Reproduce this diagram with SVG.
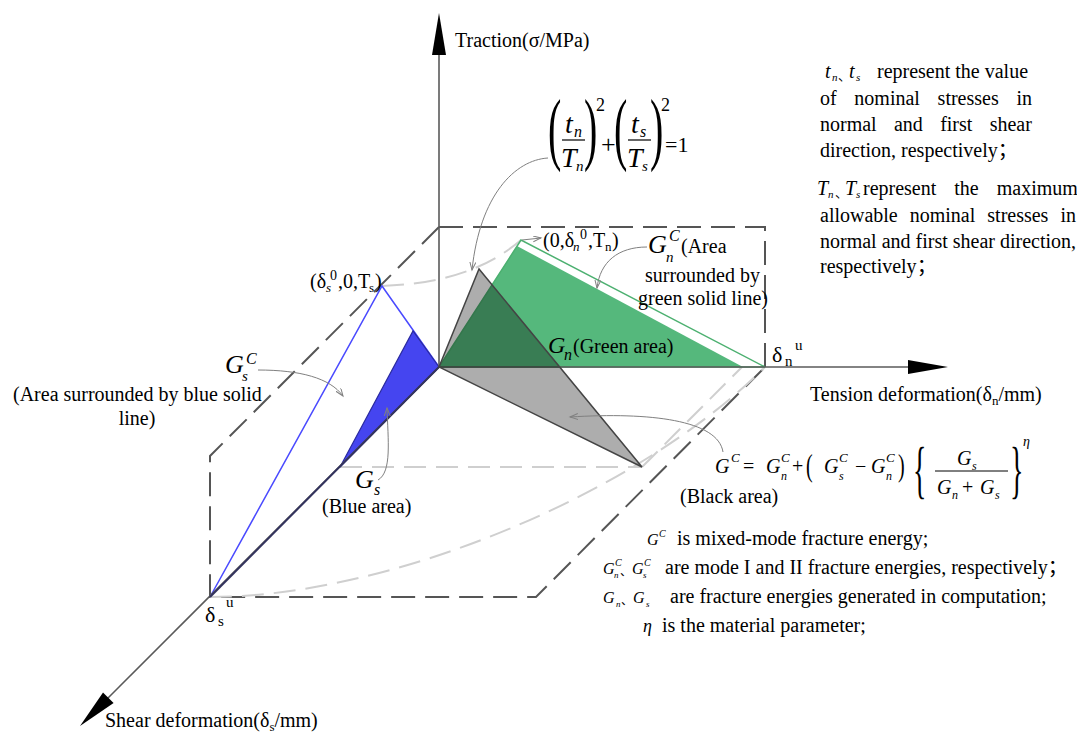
<svg xmlns="http://www.w3.org/2000/svg" width="1077" height="733" viewBox="0 0 1077 733" font-size="20">
<defs>
<style>
text{font-family:"Liberation Serif","Times New Roman",serif;fill:#000}
.it{font-style:italic}
.ax{stroke:#5a5a5a;stroke-width:1.6;fill:none}
.dk{stroke:#555;stroke-width:2;stroke-dasharray:24 10;fill:none}
.lt{stroke:#cfcfcf;stroke-width:2;stroke-dasharray:22 10;fill:none}
.ld{stroke:#808080;stroke-width:1;fill:none;marker-end:url(#oa)}
.cj{font-family:"Noto Sans CJK SC",sans-serif}
</style>
<marker id="oa" markerWidth="10" markerHeight="8" refX="8" refY="3" orient="auto" markerUnits="userSpaceOnUse"><path d="M0,0 L8,3 L0,6" fill="none" stroke="#808080" stroke-width="1"/></marker>
</defs>
<rect width="1077" height="733" fill="#fff"/>

<g id="box">
<path class="dk" d="M439,227 H765 V367"/>
<path class="dk" d="M439,227 L210,456 V597 H536 L765,367"/>
</g>

<g id="guide-curves">
<path class="lt" d="M382,286 C430,284 480,275 521,240"/>
<path class="lt" d="M210,597 C390,597 638,494 765,367"/>
<path class="lt" d="M340,467 H642"/>
<path class="lt" d="M642,467 L742,367"/>
</g>

<g id="green-region">
<polygon points="439,367 517,246 743,367" fill="#55b87c"/>
<polygon points="439,367 521,240 765,367" fill="none" stroke="#4cb070" stroke-width="1.5"/>
</g>

<g id="blue-region">
<polyline points="439,367 382,286 210,597" fill="none" stroke="#4a4aff" stroke-width="1.5"/>
<polygon points="439,367 413,331 340,467" fill="#4545f0" stroke="#2a2aa0" stroke-width="1.2"/>
</g>

<g id="axes">
<line class="ax" x1="439" y1="367" x2="439" y2="50"/>
<polygon points="439,13 432,55 446,55" fill="#000"/>
<line class="ax" x1="439" y1="367" x2="910" y2="367"/>
<polygon points="948,367 908,360 908,374" fill="#000"/>
<line class="ax" x1="439" y1="367" x2="106" y2="700"/>
<polygon points="80,726 103,692.4 113.6,703" fill="#000"/>
<line x1="439" y1="367" x2="210" y2="597" stroke="#33335e" stroke-width="2"/>
</g>

<g id="gray-region">
<polygon points="439,367 479,269 642,467" fill="#000" fill-opacity="0.32" stroke="#444" stroke-width="1.5"/>
</g>

<g id="connectors">
<path class="ld" d="M548,158 C515,160 480,195 472,270"/>
<path class="ld" d="M522,240 L541,238"/>
<path class="ld" d="M647,247 C618,247 600,262 597,288"/>
<path class="ld" d="M258,370 C300,370 330,378 343,396"/>
<path class="ld" d="M378,480 C392,472 388,440 387,408"/>
<path class="ld" d="M723,452 C718,420 650,412 570,417"/>
</g>

<g id="axis-labels">
<text x="455" y="47">Traction(σ/MPa)</text>
<text x="810" y="401">Tension deformation(δ<tspan font-size="13" dy="4">n</tspan><tspan dy="-4">/mm)</tspan></text>
<text x="105" y="727">Shear deformation(δ<tspan font-size="13" dy="4">s</tspan><tspan dy="-4">/mm)</tspan></text>
<text x="772" y="362" font-size="22">δ</text><text x="785" y="366" font-size="15">n</text><text x="795" y="350" font-size="15">u</text>
<text x="205" y="622" font-size="22">δ</text><text x="218" y="626" font-size="15">s</text><text x="226" y="607" font-size="15">u</text>
</g>

<g id="point-labels">
<text x="310" y="288">(δ</text><text x="326" y="292" class="it" font-size="13">s</text><text x="330" y="280" font-size="14">0</text><text x="338" y="288">,0,T</text><text x="369" y="292" font-size="13">s</text><text x="375" y="288">)</text>
<text x="543" y="247">(0,δ</text><text x="573" y="251" class="it" font-size="13">n</text><text x="580" y="239" font-size="14">0</text><text x="588" y="247">,T</text><text x="605" y="251" font-size="13">n</text><text x="612" y="247">)</text>
</g>

<g id="label-GnC">
<text x="648" y="253" class="it" font-size="26">G</text><text x="669" y="241" class="it" font-size="16">C</text><text x="666" y="262" class="it" font-size="15">n</text><text x="681" y="253">(Area</text>
<text x="645" y="282">surrounded by</text>
<text x="638" y="305">green solid line)</text>
</g>

<g id="label-Gn">
<text x="548" y="353" class="it" font-size="24">G</text><text x="564" y="360" class="it" font-size="16">n</text><text x="573" y="353">(Green area)</text>
</g>

<g id="label-GsC">
<text x="225" y="373" class="it" font-size="26">G</text><text x="246" y="364" class="it" font-size="16">C</text><text x="242" y="381" class="it" font-size="15">s</text>
<text x="13" y="401">(Area surrounded by blue solid</text>
<text x="137" y="425" text-anchor="middle">line)</text>
</g>

<g id="label-Gs">
<text x="355" y="488" class="it" font-size="26">G</text><text x="374" y="495" class="it" font-size="16">s</text>
<text x="322" y="513">(Blue area)</text>
</g>

<g id="formula-stress">
<text transform="translate(548,155) scale(1,2)" font-size="40">(</text>
<text x="565" y="133" class="it" font-size="28">t</text><text x="574" y="137" class="it" font-size="16">n</text>
<line x1="562" y1="140" x2="585" y2="140" stroke="#000" stroke-width="1.2"/>
<text x="561" y="167" class="it" font-size="28">T</text><text x="576" y="171" class="it" font-size="15">n</text>
<text transform="translate(584,155) scale(1,2)" font-size="40">)</text>
<text x="596" y="111" font-size="18">2</text>
<text x="601" y="153" font-size="26">+</text>
<text transform="translate(614,155) scale(1,2)" font-size="40">(</text>
<text x="631" y="133" class="it" font-size="28">t</text><text x="640" y="137" class="it" font-size="16">s</text>
<line x1="628" y1="140" x2="651" y2="140" stroke="#000" stroke-width="1.2"/>
<text x="627" y="167" class="it" font-size="28">T</text><text x="642" y="171" class="it" font-size="15">s</text>
<text transform="translate(650,155) scale(1,2)" font-size="40">)</text>
<text x="661" y="111" font-size="18">2</text>
<text x="665" y="152" font-size="22">=1</text>
</g>

<g id="formula-energy">
<text x="715" y="473" class="it">G</text><text x="731" y="462" class="it" font-size="13">C</text>
<text x="743" y="473">=</text>
<text x="766" y="473" class="it">G</text><text x="781" y="462" class="it" font-size="13">C</text><text x="781" y="480" class="it" font-size="12">n</text>
<text x="792" y="473">+</text>
<text transform="translate(806,476) scale(1,1.6)">(</text>
<text x="824" y="473" class="it">G</text><text x="839" y="462" class="it" font-size="13">C</text><text x="839" y="480" class="it" font-size="12">s</text>
<text x="855" y="473">−</text>
<text x="871" y="473" class="it">G</text><text x="886" y="462" class="it" font-size="13">C</text><text x="886" y="480" class="it" font-size="12">n</text>
<text transform="translate(898,476) scale(1,1.6)">)</text>
<text transform="translate(913,491) scale(1,2.3)" font-size="28">{</text>
<text x="957" y="465" class="it">G</text><text x="972" y="470" class="it" font-size="12">s</text>
<line x1="935" y1="471" x2="1008" y2="471" stroke="#000" stroke-width="1"/>
<text x="937" y="494" class="it">G</text><text x="952" y="499" class="it" font-size="12">n</text><text x="962" y="494">+</text><text x="980" y="494" class="it">G</text><text x="995" y="499" class="it" font-size="12">s</text>
<text transform="translate(1010,491) scale(1,2.3)" font-size="28">}</text>
<text x="1023" y="446" class="it" font-size="14">η</text>
<text x="680" y="503">(Black area)</text>
</g>

<g id="notes-top">
<text x="825" y="78" class="it">t</text><text x="832" y="81" class="it" font-size="11">n</text><text x="838" y="80" class="cj" font-size="13">、</text><text x="849" y="78" class="it">t</text><text x="856" y="81" class="it" font-size="11">s</text>
<text x="877" y="78">represent the value</text>
<text x="820" y="105" word-spacing="12.7">of nominal stresses in</text>
<text x="820" y="131" word-spacing="12.3">normal and first shear</text>
<text x="820" y="157">direction, respectively<tspan class="cj">；</tspan></text>
<text x="817" y="195" class="it">T</text><text x="828" y="198" class="it" font-size="11">n</text><text x="835" y="197" class="cj" font-size="13">、</text><text x="845" y="195" class="it">T</text><text x="856" y="198" class="it" font-size="11">s</text>
<text x="863" y="195" word-spacing="13">represent the maximum</text>
<text x="820" y="222" word-spacing="7">allowable nominal stresses in</text>
<text x="820" y="248">normal and first shear direction,</text>
<text x="820" y="273">respectively<tspan class="cj">；</tspan></text>
</g>

<g id="notes-bottom">
<text x="647" y="545" class="it" font-size="16">G</text><text x="659" y="537" class="it" font-size="10">C</text>
<text x="677" y="545">is mixed-mode fracture energy;</text>
<text x="603" y="574" class="it" font-size="16">G</text><text x="615" y="566" class="it" font-size="10">C</text><text x="614" y="578" class="it" font-size="9">n</text><text x="620" y="576" class="cj" font-size="12">、</text><text x="632" y="574" class="it" font-size="16">G</text><text x="644" y="566" class="it" font-size="10">C</text><text x="643" y="578" class="it" font-size="9">s</text>
<text x="665" y="574">are mode I and II fracture energies, respectively<tspan class="cj">；</tspan></text>
<text x="603" y="603" class="it" font-size="16">G</text><text x="616" y="607" class="it" font-size="9">n</text><text x="621" y="605" class="cj" font-size="12">、</text><text x="633" y="603" class="it" font-size="16">G</text><text x="646" y="607" class="it" font-size="9">s</text>
<text x="670" y="603">are fracture energies generated in computation;</text>
<text x="643" y="632" class="it" font-size="18">η</text>
<text x="662" y="632">is the material parameter;</text>
</g>
</svg>
